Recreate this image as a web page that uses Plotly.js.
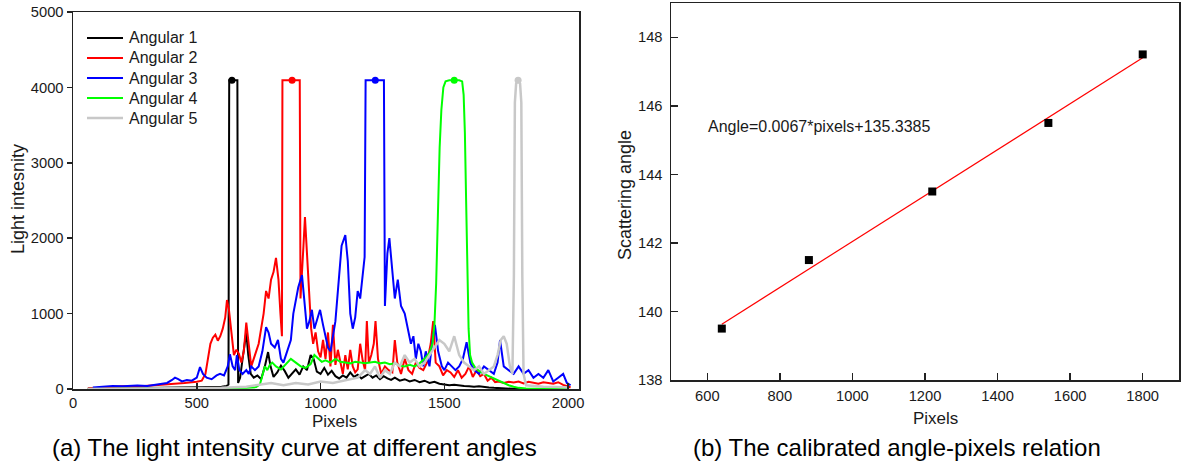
<!DOCTYPE html>
<html>
<head>
<meta charset="utf-8">
<script src="https://cdn.plot.ly/plotly-3.0.1.min.js"></script>
<style>
  html, body { margin: 0; padding: 0; background: #ffffff; }
  #chart { width: 1186px; height: 466px; }
</style>
</head>
<body>
<div id="chart"></div>
<script>
// ---------- Panel (a): light intensity curves ----------
const seriesNames = ["Angular 1", "Angular 2", "Angular 3", "Angular 4", "Angular 5"];

const pix1 = [60,100,200,300,400,500,560,600,620,628,631,636,660,664,667,675,685,692,700,708,718,730,745,760,775,788,798,810,825,840,855,870,885,900,915,930,945,960,972,985,1000,1015,1030,1045,1060,1075,1090,1105,1120,1135,1150,1165,1180,1195,1210,1225,1240,1255,1270,1285,1300,1320,1340,1360,1380,1400,1420,1440,1460,1480,1500,1520,1540,1560,1580,1600,1620,1640,1660,1680,1700,1720,1740,1760,1780,1800,1850];
const int1 = [5,8,10,12,15,20,25,30,40,60,4095,4095,4095,4095,80,150,400,600,750,450,200,150,180,130,300,490,300,160,220,310,240,150,200,260,190,300,250,450,400,230,200,280,190,240,170,140,180,150,220,160,190,140,170,200,150,180,130,170,140,120,150,110,130,100,120,90,110,80,95,70,60,50,55,45,40,35,30,35,25,20,15,10,8,5,2,0,0];

const pix2 = [60,100,150,200,250,300,350,400,450,480,500,520,535,545,555,565,575,585,595,605,615,622,630,640,650,660,670,680,690,700,710,720,735,750,760,770,780,790,800,810,820,830,838,844,846,852,912,916,919,925,931,937,945,953,962,970,980,990,1000,1010,1020,1030,1040,1050,1060,1070,1080,1090,1100,1110,1120,1130,1140,1150,1160,1170,1180,1187,1195,1205,1215,1222,1232,1245,1260,1275,1290,1300,1310,1325,1340,1355,1370,1385,1400,1415,1430,1445,1455,1465,1480,1495,1510,1525,1540,1555,1570,1585,1600,1615,1630,1645,1660,1675,1690,1705,1720,1740,1760,1780,1800,1820,1840,1860,1880,1900,1920,1940,1960,1980,2000,2010];
const int2 = [5,15,25,35,30,40,50,60,80,90,95,110,200,400,600,680,720,640,700,800,950,1180,1050,750,450,520,470,350,500,880,600,300,450,600,800,1000,1300,1200,1450,1550,1740,1450,1000,700,4095,4095,4095,4095,1200,1500,1900,2280,1800,1300,800,600,750,500,420,650,400,750,300,850,320,520,350,200,450,260,520,300,220,260,600,380,250,900,350,450,600,900,400,200,300,250,220,650,350,200,400,250,200,350,280,250,350,600,900,350,300,180,250,220,160,250,150,200,300,160,250,170,200,110,150,90,100,80,95,85,100,75,95,80,70,90,80,70,90,55,35,20];

const pix3 = [80,120,160,200,260,300,340,380,400,412,425,440,460,480,500,513,525,540,560,580,594,610,625,634,645,655,662,672,685,700,710,720,735,750,765,780,790,800,815,828,840,850,860,870,880,890,900,910,925,935,945,955,965,975,985,998,1010,1020,1030,1040,1050,1060,1075,1085,1100,1110,1120,1130,1140,1150,1160,1170,1178,1182,1186,1256,1260,1263,1270,1278,1288,1300,1312,1325,1340,1355,1365,1375,1385,1395,1405,1415,1425,1440,1450,1462,1475,1490,1500,1515,1530,1545,1560,1575,1590,1605,1620,1640,1660,1680,1700,1715,1725,1740,1760,1780,1800,1820,1840,1860,1880,1900,1920,1940,1960,1980,1995,2010];
const int3 = [20,30,40,35,45,40,60,80,120,150,130,100,120,110,150,290,200,150,130,180,200,180,300,460,300,250,450,250,200,250,200,300,250,300,500,820,750,600,550,650,400,350,450,550,650,1000,1200,1350,1510,1200,800,900,1050,800,900,1050,850,700,550,500,700,900,1500,1900,2040,1700,1000,800,950,1300,1200,1500,1750,4095,4095,4095,1100,1300,1800,2000,1600,1200,1450,1100,1000,750,600,700,400,600,500,300,500,300,600,850,500,300,250,350,300,250,300,400,620,350,250,200,300,250,200,350,650,300,250,200,300,200,250,150,200,150,250,100,150,200,80,50];

const pix4 = [60,300,500,600,700,740,755,765,775,785,795,805,820,840,860,880,900,920,940,960,975,990,1005,1020,1040,1060,1080,1100,1120,1140,1160,1180,1200,1220,1240,1260,1280,1300,1320,1340,1360,1380,1400,1420,1440,1452,1460,1467,1474,1481,1488,1496,1505,1520,1560,1572,1578,1583,1588,1593,1598,1604,1612,1625,1640,1660,1680,1700,1720,1740,1760,1780,1800,1830,1870,1920,2000];
const int4 = [0,3,8,12,18,25,60,180,300,250,320,350,300,260,330,400,350,300,280,330,450,400,360,380,350,400,360,350,340,360,350,340,350,360,340,350,330,340,310,300,320,300,340,400,480,600,850,1400,2300,3200,3700,4000,4080,4095,4095,4080,3900,3400,2500,1500,800,450,350,280,240,200,170,130,100,70,50,30,15,8,3,0,0];

const pix5 = [60,300,500,600,700,750,800,850,900,950,1000,1050,1100,1150,1180,1200,1220,1240,1260,1280,1300,1320,1340,1360,1380,1400,1420,1440,1460,1480,1500,1520,1540,1560,1580,1600,1620,1640,1660,1680,1700,1715,1728,1740,1752,1765,1775,1781,1785,1790,1798,1806,1811,1815,1820,1830,1860,1900,1950,2000];
const int5 = [0,5,10,15,30,50,80,50,80,60,100,80,120,150,250,200,300,150,250,200,350,300,450,350,400,300,350,450,550,650,600,500,700,450,350,300,250,300,200,250,300,450,650,700,600,300,200,1500,3800,4050,4095,4050,3800,1500,200,50,40,30,25,20];

// saturation-peak markers
const peakPix = [642, 885, 1221, 1540, 1798];
const peakInt = [4095, 4095, 4095, 4095, 4095];

const colors = ["#000000", "#ff0000", "#0000ff", "#00ff00", "#c8c8c8"];
const xTicksA = [0, 500, 1000, 1500, 2000];
const yTicksA = [0, 1000, 2000, 3000, 4000, 5000];

// ---------- Panel (b): calibration ----------
const calPixels = [640, 880, 1220, 1540, 1800];
const calAngle = [139.5, 141.5, 143.5, 145.5, 147.5];
const fitPixels = [640, 1800];
const fitAngle = [139.63, 147.40];
const xTicksB = [600, 800, 1000, 1200, 1400, 1600, 1800];
const yTicksB = [138, 140, 142, 144, 146, 148];

const FONT = "Liberation Sans, Arial, sans-serif";
const W = 1186, H = 466;
const px = v => v / W;
const py = v => 1 - v / H;

const allPix = [pix1, pix2, pix3, pix4, pix5];
const allInt = [int1, int2, int3, int4, int5];

const traces = [];
for (let i = 0; i < 5; i++) {
  traces.push({
    type: "scatter", mode: "lines", name: seriesNames[i], showlegend: false,
    x: allPix[i], y: allInt[i], xaxis: "x", yaxis: "y",
    line: { color: colors[i], width: i === 4 ? 2.5 : 2 }
  });
}
for (let i = 0; i < 5; i++) {
  traces.push({
    type: "scatter", mode: "markers", showlegend: false,
    x: [peakPix[i]], y: [peakInt[i]], xaxis: "x", yaxis: "y",
    marker: { color: colors[i], size: 7 }
  });
}
traces.push({
  type: "scatter", mode: "lines", showlegend: false,
  x: fitPixels, y: fitAngle, xaxis: "x2", yaxis: "y2",
  line: { color: "#ff0000", width: 1.2 }
});
traces.push({
  type: "scatter", mode: "markers", showlegend: false,
  x: calPixels, y: calAngle, xaxis: "x2", yaxis: "y2",
  marker: { color: "#000000", size: 8, symbol: "square" }
});

const axisBase = {
  showgrid: false, zeroline: false, showline: true, mirror: true,
  linecolor: "#222", linewidth: 1.5, tickcolor: "#222", tickwidth: 1.5,
  tickfont: { family: FONT, size: 14.7, color: "#1a1a1a" }
};

// legend (drawn as line samples + labels, spacing as in the reference)
const legendShapes = [];
const legendTexts = [];
for (let i = 0; i < 5; i++) {
  const yy = 38 + 20 * i;
  legendShapes.push({
    type: "line", xref: "paper", yref: "paper",
    x0: px(87), x1: px(123), y0: py(yy), y1: py(yy),
    line: { color: colors[i], width: i === 4 ? 2.5 : 2 }
  });
  legendTexts.push({
    text: seriesNames[i], xref: "paper", yref: "paper", x: px(127), y: py(yy),
    showarrow: false, xanchor: "left", yanchor: "middle",
    font: { family: FONT, size: 16, color: "#1a1a1a" }
  });
}

const layout = {
  width: W, height: H,
  margin: { l: 0, r: 0, t: 0, b: 0 },
  paper_bgcolor: "#ffffff", plot_bgcolor: "#ffffff",
  font: { family: FONT, color: "#1a1a1a" },
  showlegend: false,
  xaxis: Object.assign({}, axisBase, {
    domain: [px(73), px(579)], anchor: "y",
    range: [0, 2044], tickmode: "array", tickvals: xTicksA,
    ticks: "inside", ticklen: 6, ticklabelstandoff: 0
  }),
  yaxis: Object.assign({}, axisBase, {
    domain: [py(389), py(12)], anchor: "x",
    range: [0, 5000], tickmode: "array", tickvals: yTicksA,
    ticks: "outside", ticklen: 5
  }),
  xaxis2: Object.assign({}, axisBase, {
    domain: [px(671), px(1179)], anchor: "y2",
    range: [500, 1900], tickmode: "array", tickvals: xTicksB,
    ticks: "inside", ticklen: 7, ticklabelstandoff: 2
  }),
  yaxis2: Object.assign({}, axisBase, {
    domain: [py(380), py(3)], anchor: "x2",
    range: [138, 149], tickmode: "array", tickvals: yTicksB,
    ticks: "inside", ticklen: 7, ticklabelstandoff: 4
  }),
  shapes: legendShapes,
  annotations: legendTexts.concat([
    { text: "Light intesnity", xref: "paper", yref: "paper", x: px(18), y: py(199),
      textangle: -90, showarrow: false, xanchor: "center", yanchor: "middle",
      font: { family: FONT, size: 18, color: "#1a1a1a" } },
    { text: "Pixels", xref: "paper", yref: "paper", x: px(334), y: py(421),
      showarrow: false, xanchor: "center", yanchor: "middle",
      font: { family: FONT, size: 17, color: "#1a1a1a" } },
    { text: "(a) The light intensity curve at different angles", xref: "paper", yref: "paper",
      x: px(294), y: py(447), showarrow: false, xanchor: "center", yanchor: "middle",
      font: { family: FONT, size: 24, color: "#000000" } },
    { text: "Scattering angle", xref: "paper", yref: "paper", x: px(625), y: py(195),
      textangle: -90, showarrow: false, xanchor: "center", yanchor: "middle",
      font: { family: FONT, size: 18, color: "#1a1a1a" } },
    { text: "Pixels", xref: "paper", yref: "paper", x: px(935), y: py(418),
      showarrow: false, xanchor: "center", yanchor: "middle",
      font: { family: FONT, size: 17, color: "#1a1a1a" } },
    { text: "(b) The calibrated angle-pixels relation", xref: "paper", yref: "paper",
      x: px(897), y: py(447), showarrow: false, xanchor: "center", yanchor: "middle",
      font: { family: FONT, size: 24, color: "#000000" } },
    { text: "Angle=0.0067*pixels+135.3385", xref: "paper", yref: "paper",
      x: px(706), y: py(126), showarrow: false, xanchor: "left", yanchor: "middle",
      font: { family: FONT, size: 16, color: "#1a1a1a" } }
  ])
};

Plotly.newPlot("chart", traces, layout, { staticPlot: true, displayModeBar: false });
</script>
</body>
</html>
